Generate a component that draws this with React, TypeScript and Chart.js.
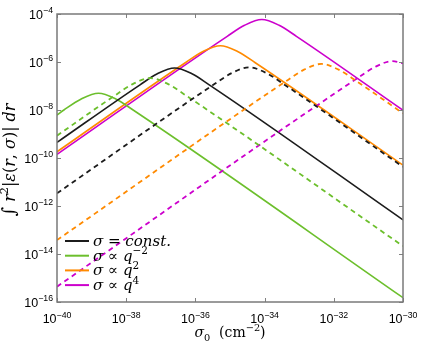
import React, { useEffect, useRef } from 'react';
import { Chart, registerables } from 'chart.js';
Chart.register(...registerables);

// Axis ticks (powers of ten)
const X_TICK_EXPS = [-40, -38, -36, -34, -32, -30];
const Y_TICK_EXPS = [-16, -14, -12, -10, -8, -6, -4];

// Series: log10(sigma0) and log10(integral)
const constX = [-40, -37.6, -37.1, -36.6, -36.1, -35.6, -30];
const constSolid = [-9.35, -6.95, -6.49, -6.25, -6.49, -6.95, -12.58];
const constDashX = [-40, -35.45, -34.95, -34.45, -33.95, -33.45, -30];
const constDash = [-11.47, -6.92, -6.46, -6.22, -6.46, -6.92, -10.37];

const qm2X = [-40, -39.8, -39.3, -38.8, -38.3, -37.8, -30];
const qm2Solid = [-8.21, -8.0, -7.54, -7.3, -7.54, -8.0, -15.82];
const qm2DashX = [-40, -38.3, -37.8, -37.3, -36.8, -36.3, -30];
const qm2Dash = [-9.07, -7.37, -6.91, -6.67, -6.91, -7.37, -13.67];

const q2X = [-40, -36.28, -35.78, -35.28, -34.78, -34.28, -30];
const q2Solid = [-9.74, -6.02, -5.56, -5.32, -5.56, -6.02, -10.3];
const q2DashX = [-40, -33.36, -32.86, -32.36, -31.86, -31.36, -30];
const q2Dash = [-13.42, -6.78, -6.32, -6.08, -6.32, -6.78, -8.14];

const q4X = [-40, -35.08, -34.58, -34.08, -33.58, -33.08, -30];
const q4Solid = [-9.85, -4.93, -4.47, -4.23, -4.47, -4.93, -8.01];
const q4DashX = [-40, -31.3, -30.8, -30.3, -30];
const q4Dash = [-15.36, -6.66, -6.2, -5.96, -6.06];

const COLORS = ['#1c1c1c', '#6cbf2c', '#ff8a00', '#cc00cc'];

type Part = { t: string; it?: boolean; sup?: boolean; sub?: boolean; scale?: number };

const LEGEND: Part[][] = [
  [{ t: 'σ', it: true }, { t: ' = ' }, { t: 'const.', it: true }],
  [{ t: 'σ', it: true }, { t: ' ∝ ' }, { t: 'q', it: true }, { t: '−2', sup: true }],
  [{ t: 'σ', it: true }, { t: ' ∝ ' }, { t: 'q', it: true }, { t: '2', sup: true }],
  [{ t: 'σ', it: true }, { t: ' ∝ ' }, { t: 'q', it: true }, { t: '4', sup: true }],
];

const X_TITLE: Part[] = [
  { t: 'σ', it: true }, { t: '0', sub: true }, { t: '  (cm' }, { t: '−2', sup: true }, { t: ')' },
];
const Y_TITLE: Part[] = [
  { t: '∫', scale: 1.15 }, { t: ' r', it: true }, { t: '2', sup: true }, { t: '|' }, { t: 'ε', it: true },
  { t: '(' }, { t: 'r', it: true }, { t: ', ' }, { t: 'σ', it: true }, { t: ')| ' }, { t: 'dr', it: true },
];

const toPts = (xs: number[], ys: number[]) => xs.map((x, i) => ({ x: Math.pow(10, x), y: Math.pow(10, ys[i]) }));

function partFont(p: Part, base: number, fam: string) {
  const size = p.sup || p.sub ? base * 0.7 : base * (p.scale || 1);
  return `${p.it ? 'italic ' : ''}${size}px ${fam}`;
}

function drawRich(ctx: CanvasRenderingContext2D, parts: Part[], x: number, y: number, align: 'left' | 'center' | 'right', base: number, fam: string) {
  ctx.textAlign = 'left';
  ctx.textBaseline = 'alphabetic';
  let total = 0;
  const widths = parts.map((p) => {
    ctx.font = partFont(p, base, fam);
    const w = ctx.measureText(p.t).width;
    total += w;
    return w;
  });
  let cx = align === 'left' ? x : align === 'center' ? x - total / 2 : x - total;
  parts.forEach((p, i) => {
    ctx.font = partFont(p, base, fam);
    const dy = p.sup ? -base * 0.42 : p.sub ? base * 0.25 : 0;
    ctx.fillText(p.t, cx, y + dy);
    cx += widths[i];
  });
}

const framePlugin = {
  id: 'frame',
  afterDraw(chart: any) {
    const { ctx, chartArea: a, scales } = chart;
    const xs = scales.x;
    const ys = scales.y;
    ctx.save();
    ctx.strokeStyle = '#808080';
    ctx.lineWidth = 1;
    X_TICK_EXPS.forEach((e) => {
      const px = Math.round(xs.getPixelForValue(Math.pow(10, e))) + 0.5;
      ctx.beginPath();
      ctx.moveTo(px, a.bottom); ctx.lineTo(px, a.bottom - 4);
      ctx.moveTo(px, a.top); ctx.lineTo(px, a.top + 4);
      ctx.stroke();
    });
    Y_TICK_EXPS.forEach((e) => {
      const py = Math.round(ys.getPixelForValue(Math.pow(10, e))) + 0.5;
      ctx.beginPath();
      ctx.moveTo(a.left, py); ctx.lineTo(a.left + 4, py);
      ctx.moveTo(a.right, py); ctx.lineTo(a.right - 4, py);
      ctx.stroke();
    });
    ctx.lineWidth = 1.5;
    ctx.strokeStyle = '#7a7a7a';
    ctx.strokeRect(a.left, a.top, a.right - a.left, a.bottom - a.top);

    // tick labels
    ctx.fillStyle = '#000';
    const sans = '"Liberation Sans", Arial, sans-serif';
    const tickParts = (e: number): Part[] => [{ t: '10' }, { t: '−' + Math.abs(e), sup: true }];
    X_TICK_EXPS.forEach((e) => {
      const px = xs.getPixelForValue(Math.pow(10, e));
      drawRich(ctx, tickParts(e), px, a.bottom + 21, 'center', 12.5, sans);
    });
    Y_TICK_EXPS.forEach((e) => {
      const py = ys.getPixelForValue(Math.pow(10, e));
      drawRich(ctx, tickParts(e), a.left - 4, py + 4.5, 'right', 12.5, sans);
    });

    const serif = '"DejaVu Serif", "Liberation Serif", serif';
    // x title
    drawRich(ctx, X_TITLE, (a.left + a.right) / 2, 337, 'center', 14, serif);
    // y title
    ctx.save();
    ctx.translate(15, (a.top + a.bottom) / 2 + 2);
    ctx.rotate(-Math.PI / 2);
    drawRich(ctx, Y_TITLE, 0, 0, 'center', 16, serif);
    ctx.restore();

    // legend
    LEGEND.forEach((parts, i) => {
      const ly = 241 + i * 14.7;
      ctx.strokeStyle = COLORS[i];
      ctx.lineWidth = 2;
      ctx.setLineDash([]);
      ctx.beginPath();
      ctx.moveTo(65, ly); ctx.lineTo(89, ly);
      ctx.stroke();
      ctx.fillStyle = '#000';
      drawRich(ctx, parts, 93, ly + 5, 'left', 15, serif);
    });
    ctx.restore();
  },
};

export default function App() {
  const ref = useRef<HTMLCanvasElement>(null);
  useEffect(() => {
    if (!ref.current) return;
    const mk = (label: string, xs: number[], ys: number[], color: string, dashed: boolean) => ({
      label,
      data: toPts(xs, ys),
      borderColor: color,
      backgroundColor: color,
      borderWidth: dashed ? 1.8 : 1.6,
      borderDash: dashed ? [5, 4] : [],
      pointRadius: 0,
      fill: false,
      cubicInterpolationMode: 'monotone' as const,
    });
    const chart = new Chart(ref.current, {
      type: 'line',
      data: {
        datasets: [
          mk('σ = const. (dashed)', constDashX, constDash, COLORS[0], true),
          mk('σ ∝ q^-2 (dashed)', qm2DashX, qm2Dash, COLORS[1], true),
          mk('σ ∝ q^2 (dashed)', q2DashX, q2Dash, COLORS[2], true),
          mk('σ ∝ q^4 (dashed)', q4DashX, q4Dash, COLORS[3], true),
          mk('σ = const.', constX, constSolid, COLORS[0], false),
          mk('σ ∝ q^-2', qm2X, qm2Solid, COLORS[1], false),
          mk('σ ∝ q^2', q2X, q2Solid, COLORS[2], false),
          mk('σ ∝ q^4', q4X, q4Solid, COLORS[3], false),
        ],
      },
      options: {
        animation: false,
        responsive: false,
        devicePixelRatio: 1,
        layout: { padding: { left: 0, top: 14, right: 18, bottom: 0 } },
        plugins: { legend: { display: false }, tooltip: { enabled: false } },
        scales: {
          x: {
            type: 'logarithmic',
            min: 1e-40,
            max: 1e-30,
            ticks: { display: false },
            grid: { display: false },
            border: { display: false },
            afterBuildTicks: (s: any) => { s.ticks = X_TICK_EXPS.map((e) => ({ value: Math.pow(10, e) })); },
            afterFit: (s: any) => { s.height = 43; },
          },
          y: {
            type: 'logarithmic',
            min: 1e-16,
            max: 1e-4,
            ticks: { display: false },
            grid: { display: false },
            border: { display: false },
            afterBuildTicks: (s: any) => { s.ticks = Y_TICK_EXPS.map((e) => ({ value: Math.pow(10, e) })); },
            afterFit: (s: any) => { s.width = 57; },
          },
        },
      },
      plugins: [framePlugin],
    });
    return () => chart.destroy();
  }, []);
  return (
    <div style={{ position: 'fixed', left: 0, top: 0, width: 421, height: 345, background: '#fff' }}>
      <canvas ref={ref} width={421} height={345} />
    </div>
  );
}
